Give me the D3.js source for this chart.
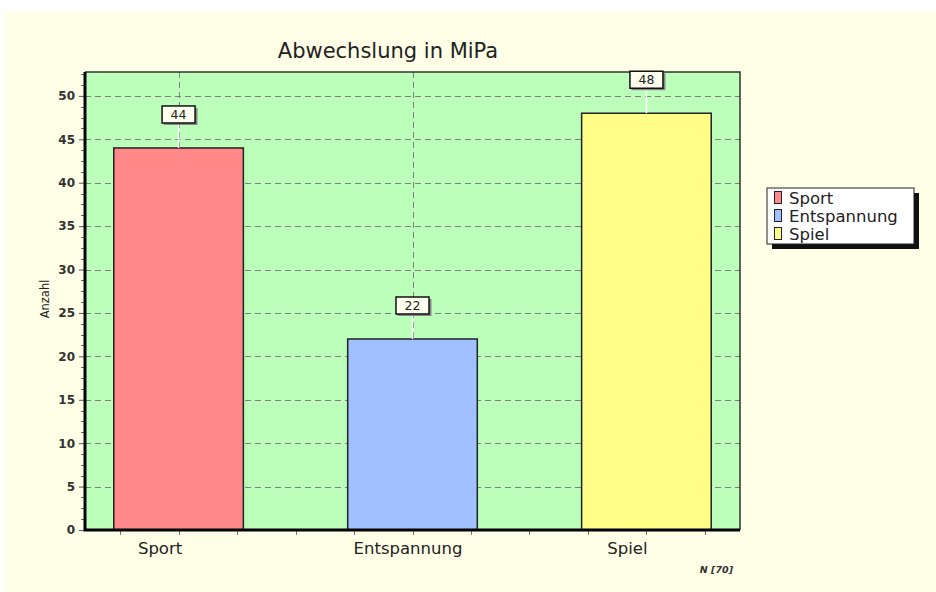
<!DOCTYPE html>
<html>
<head>
<meta charset="utf-8">
<script src="https://cdn.jsdelivr.net/npm/d3@7"></script>
<style>
  body { margin: 0; background: #fff; }
  svg text { font-family: "DejaVu Sans", Verdana, sans-serif; }
</style>
</head>
<body>
<div id="chart"></div>
<script>
// --- Data ---
const categories = ['Sport', 'Entspannung', 'Spiel'];
const values = [44, 22, 48];
const barColors = ['#ff8888', '#a0c0ff', '#ffff88'];
const yTicks = [0, 5, 10, 15, 20, 25, 30, 35, 40, 45, 50];
const titleText = 'Abwechslung in MiPa';
const yLabel = 'Anzahl';
const footNote = 'N [70]';

const width = 936, height = 592;
const plot = {left: 85, right: 740, top: 72, bottom: 530};

const svg = d3.select('#chart').append('svg')
  .attr('width', width)
  .attr('height', height);

// cream background panel
svg.append('rect')
  .attr('x', 5).attr('y', 11)
  .attr('width', width - 5).attr('height', height - 11)
  .attr('fill', '#ffffe8');

// Scales
const x = d3.scaleLinear()
  .domain([-0.4, 2.4])
  .range([plot.left, plot.right]);
const y = d3.scaleLinear()
  .domain([0, 52.75])
  .range([plot.bottom, plot.top]);

// plot area
svg.append('rect')
  .attr('x', plot.left).attr('y', plot.top)
  .attr('width', plot.right - plot.left).attr('height', plot.bottom - plot.top)
  .attr('fill', '#bbffbb');

// Grid
const grid = svg.append('g')
  .attr('stroke', '#808080')
  .attr('stroke-width', 1)
  .attr('stroke-dasharray', '6,4');
grid.selectAll('line.h')
  .data(yTicks.filter(d => d > 0))
  .enter().append('line')
  .attr('x1', plot.left).attr('x2', plot.right)
  .attr('y1', d => Math.round(y(d)) + 0.5).attr('y2', d => Math.round(y(d)) + 0.5);
grid.selectAll('line.v')
  .data(categories)
  .enter().append('line')
  .attr('x1', (d, i) => Math.round(x(i)) + 0.5).attr('x2', (d, i) => Math.round(x(i)) + 0.5)
  .attr('y1', plot.top).attr('y2', plot.bottom);

// Axes
const yAxis = d3.axisLeft(y)
  .tickValues(yTicks)
  .tickSize(5)
  .tickPadding(4);
const gy = svg.append('g')
  .attr('transform', `translate(${plot.left - 1},0)`)
  .call(yAxis);
gy.select('.domain').remove();
gy.selectAll('.tick line').attr('stroke', '#555');
gy.selectAll('.tick text')
  .attr('font-size', 12)
  .attr('font-weight', 'bold')
  .attr('fill', '#333')
  .attr('font-family', '"DejaVu Sans", Verdana, sans-serif');

// minor y ticks
const yMinor = d3.range(0, 52.75, 1.25).filter(v => v % 5 !== 0);
svg.append('g').selectAll('line')
  .data(yMinor)
  .enter().append('line')
  .attr('x1', plot.left - 4).attr('x2', plot.left)
  .attr('y1', d => Math.round(y(d)) + 0.5).attr('y2', d => Math.round(y(d)) + 0.5)
  .attr('stroke', '#666');

// x ticks every quarter category
const xMinor = d3.range(-0.25, 2.4, 0.25);
svg.append('g').selectAll('line')
  .data(xMinor)
  .enter().append('line')
  .attr('x1', d => Math.round(x(d)) + 0.5).attr('x2', d => Math.round(x(d)) + 0.5)
  .attr('y1', plot.bottom).attr('y2', plot.bottom + 5)
  .attr('stroke', '#777');

// category labels (the original sits them a bit left of the tick)
const labelShift = [-18.5, -4.5, -19];
svg.append('g').selectAll('text')
  .data(categories)
  .enter().append('text')
  .attr('x', (d, i) => x(i) + labelShift[i])
  .attr('y', 554)
  .attr('text-anchor', 'middle')
  .attr('font-size', 16.5)
  .attr('fill', '#222')
  .text(d => d);

// Bars
const barHalf = 0.277;
svg.append('g').selectAll('rect')
  .data(values)
  .enter().append('rect')
  .attr('x', (d, i) => x(i - barHalf))
  .attr('y', d => y(d))
  .attr('width', x(barHalf) - x(-barHalf))
  .attr('height', d => y(0) - y(d))
  .attr('fill', (d, i) => barColors[i])
  .attr('stroke', '#222')
  .attr('stroke-width', 1.5);

// plot border: thin top/right, thick left/bottom
svg.append('path')
  .attr('d', `M${plot.left},${plot.top}H${plot.right}V${plot.bottom}`)
  .attr('fill', 'none')
  .attr('stroke', '#333')
  .attr('stroke-width', 1.5);
svg.append('path')
  .attr('d', `M${plot.left},${plot.top}V${plot.bottom}H${plot.right}`)
  .attr('fill', 'none')
  .attr('stroke', '#000')
  .attr('stroke-width', 3);

// Value labels
const lab = svg.append('g').selectAll('g')
  .data(values)
  .enter().append('g')
  .attr('transform', (d, i) => `translate(${x(i)},${y(d)})`);
lab.append('line')
  .attr('x1', 0).attr('x2', 0)
  .attr('y1', 0).attr('y2', -25)
  .attr('stroke', '#fff')
  .attr('stroke-width', 1.5);
lab.append('rect')
  .attr('x', -15).attr('y', -40)
  .attr('width', 34).attr('height', 17)
  .attr('fill', '#888');
lab.append('rect')
  .attr('x', -16.5).attr('y', -42)
  .attr('width', 33).attr('height', 17)
  .attr('fill', '#fffff0')
  .attr('stroke', '#111')
  .attr('stroke-width', 1.5);
lab.append('text')
  .attr('x', 0).attr('y', -29)
  .attr('text-anchor', 'middle')
  .attr('font-size', 12.5)
  .attr('fill', '#222')
  .text(d => d);

// Title
svg.append('text')
  .attr('x', 388).attr('y', 58)
  .attr('text-anchor', 'middle')
  .attr('font-size', 21)
  .attr('fill', '#222')
  .text(titleText);

// Y label
svg.append('text')
  .attr('transform', 'translate(49,299) rotate(-90)')
  .attr('text-anchor', 'middle')
  .attr('font-size', 11.5)
  .attr('fill', '#222')
  .text(yLabel);

// Footnote
svg.append('text')
  .attr('x', 733).attr('y', 573)
  .attr('text-anchor', 'end')
  .attr('font-size', 9.5)
  .attr('font-style', 'italic')
  .attr('font-weight', 'bold')
  .attr('fill', '#333')
  .text(footNote);

// Legend
const legend = svg.append('g').attr('transform', 'translate(767,188)');
legend.append('rect')
  .attr('x', 5).attr('y', 5).attr('width', 147).attr('height', 56)
  .attr('fill', '#111');
legend.append('rect')
  .attr('x', 0).attr('y', 0).attr('width', 147).attr('height', 56)
  .attr('fill', '#fff')
  .attr('stroke', '#222')
  .attr('stroke-width', 1);
const items = legend.selectAll('g.item')
  .data(categories)
  .enter().append('g')
  .attr('transform', (d, i) => `translate(0,${10 + i * 18})`);
items.append('rect')
  .attr('x', 7.5).attr('y', -6.5)
  .attr('width', 7).attr('height', 12)
  .attr('fill', (d, i) => barColors[i])
  .attr('stroke', '#222')
  .attr('stroke-width', 1);
items.append('text')
  .attr('x', 22).attr('y', 5.5)
  .attr('font-size', 16.5)
  .attr('fill', '#222')
  .text(d => d);
</script>
</body>
</html>
